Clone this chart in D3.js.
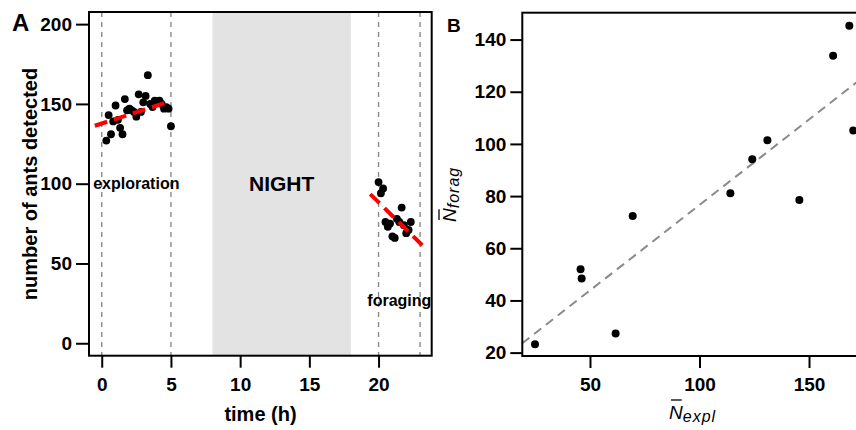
<!DOCTYPE html>
<html>
<head>
<meta charset="utf-8">
<script src="https://cdn.jsdelivr.net/npm/d3@7"></script>
<style>
  body { margin: 0; background: #fff; }
  svg text { font-family: "Liberation Sans", Arial, sans-serif; fill: #000; }
</style>
</head>
<body>
<div id="container"></div>
<script>
// ---- panel A data: counts over time ----
const explTime  = [0.33,0.5,0.67,0.83,1.0,1.17,1.33,1.5,1.67,1.83,2.0,2.17,2.33,2.5,2.67,2.83,3.0,3.17,3.33,3.5,3.67,3.83,4.0,4.17,4.33,4.5,4.67,4.83,5.0];
const explCount = [127,143,131,139,149,140,135,131,153,146,147,146,145,142,156,145,151,155,168,150,148,152,151,152,150,147,148,147,136];
const foragTime  = [20.0,20.17,20.33,20.5,20.67,20.83,21.0,21.17,21.33,21.5,21.67,21.83,22.0,22.17,22.33];
const foragCount = [101,94,97,76,73,75,67,66,78,76,85,74,69,71,76];
// fitted trends (endpoints)
const explFitX = [-0.5, 5.0];
const explFitY = [136.3, 151.8];
const foragFitX = [19.4, 23.5];
const foragFitY = [93.5, 58.5];
const phaseLines = [0, 5, 20, 23];
const nightSpan = [8, 18];
const xTicksA = [0, 5, 10, 15, 20];
const yTicksA = [0, 50, 100, 150, 200];

// ---- panel B data: mean exploration vs mean foraging ----
const nExpl  = [24.9, 45.7, 46.2, 61.7, 69.5, 114.1, 124.1, 131.0, 145.6, 161.0, 168.4, 170.2];
const nForag = [23.2, 52.0, 48.4, 27.3, 72.4, 81.1, 94.1, 101.4, 78.5, 133.8, 145.3, 105.1];
const bFitX = [19.1, 186.7];
const bFitY = [23.6, 133.4];
const xTicksB = [50, 100, 150];
const yTicksB = [20, 40, 60, 80, 100, 120, 140];

const width = 856, height = 430;

const svg = d3.select('#container')
              .append('svg')
              .attr('width', width)
              .attr('height', height);

function styleAxis(g, size) {
  g.select('.domain').remove();
  g.selectAll('line').attr('stroke', '#000').attr('stroke-width', 2);
  g.selectAll('text')
   .attr('font-size', size)
   .attr('font-weight', 'bold')
   .attr('font-family', '"Liberation Sans", Arial, sans-serif');
}

// ================= Panel A =================
const xA = d3.scaleLinear().domain([-0.92, 23.84]).range([89, 431.7]);
const yA = d3.scaleLinear().domain([-7.8, 207.6]).range([355.7, 12]);

// night band
svg.append('rect')
   .attr('x', xA(nightSpan[0]))
   .attr('y', yA.range()[1])
   .attr('width', xA(nightSpan[1]) - xA(nightSpan[0]))
   .attr('height', yA.range()[0] - yA.range()[1])
   .attr('fill', '#e3e3e3');

// phase boundaries
svg.selectAll('.phase')
   .data(phaseLines)
   .enter()
   .append('line')
   .attr('class', 'phase')
   .attr('x1', d => xA(d))
   .attr('x2', d => xA(d))
   .attr('y1', yA.range()[1])
   .attr('y2', yA.range()[0])
   .attr('stroke', '#8a8a8a')
   .attr('stroke-width', 1.4)
   .attr('stroke-dasharray', '5,5');

// points
const ptsA = explTime.map((t, i) => [t, explCount[i]])
  .concat(foragTime.map((t, i) => [t, foragCount[i]]));
svg.selectAll('.ptA')
   .data(ptsA)
   .enter()
   .append('circle')
   .attr('class', 'ptA')
   .attr('cx', d => xA(d[0]))
   .attr('cy', d => yA(d[1]))
   .attr('r', 3.9)
   .attr('fill', '#000');

// red dashed trends
[[explFitX, explFitY], [foragFitX, foragFitY]].forEach(([fx, fy]) => {
  svg.append('line')
     .attr('x1', xA(fx[0])).attr('y1', yA(fy[0]))
     .attr('x2', xA(fx[1])).attr('y2', yA(fy[1]))
     .attr('stroke', '#ff0000')
     .attr('stroke-width', 4)
     .attr('stroke-dasharray', '13,7');
});

// labels
svg.append('text').attr('x', xA(2.5)).attr('y', yA(100)).attr('dy', '0.35em')
   .attr('text-anchor', 'middle').attr('font-size', 16).attr('font-weight', 'bold')
   .text('exploration');
svg.append('text').attr('x', xA(13)).attr('y', yA(100)).attr('dy', '0.35em')
   .attr('text-anchor', 'middle').attr('font-size', 21).attr('font-weight', 'bold')
   .text('NIGHT');
svg.append('text').attr('x', xA(21.5)).attr('y', yA(27)).attr('dy', '0.35em')
   .attr('text-anchor', 'middle').attr('font-size', 16).attr('font-weight', 'bold')
   .text('foraging');

// box
svg.append('rect')
   .attr('x', 89).attr('y', 12)
   .attr('width', 431.7 - 89).attr('height', 355.7 - 12)
   .attr('fill', 'none').attr('stroke', '#000').attr('stroke-width', 2);

// axes
svg.append('g')
   .attr('transform', 'translate(89,0)')
   .call(d3.axisLeft(yA).tickValues(yTicksA).tickSize(13).tickPadding(4))
   .call(g => styleAxis(g, 19));
svg.append('g')
   .attr('transform', 'translate(0,355.7)')
   .call(d3.axisBottom(xA).tickValues(xTicksA).tickSize(12).tickPadding(10))
   .call(g => styleAxis(g, 19));

svg.append('text')
   .attr('x', 260.5).attr('y', 421)
   .attr('text-anchor', 'middle').attr('font-size', 20).attr('font-weight', 'bold')
   .text('time (h)');
svg.append('text')
   .attr('transform', 'translate(36.5,184) rotate(-90)')
   .attr('text-anchor', 'middle').attr('font-size', 20).attr('font-weight', 'bold')
   .text('number of ants detected');
svg.append('text')
   .attr('x', 12).attr('y', 31)
   .attr('font-size', 24).attr('font-weight', 'bold')
   .text('A');

// ================= Panel B =================
const xB = d3.scaleLinear().domain([19.1, 186.7]).range([522.3, 889.4]);
const yB = d3.scaleLinear().domain([18.7, 150.3]).range([356, 12.7]);

svg.append('clipPath').attr('id', 'clipB')
   .append('rect')
   .attr('x', 522.3).attr('y', 12.7)
   .attr('width', 889.4 - 522.3).attr('height', 356 - 12.7);

svg.append('line')
   .attr('clip-path', 'url(#clipB)')
   .attr('x1', xB(bFitX[0])).attr('y1', yB(bFitY[0]))
   .attr('x2', xB(bFitX[1])).attr('y2', yB(bFitY[1]))
   .attr('stroke', '#8a8a8a')
   .attr('stroke-width', 2)
   .attr('stroke-dasharray', '9,6');

svg.selectAll('.ptB')
   .data(nExpl.map((x, i) => [x, nForag[i]]))
   .enter()
   .append('circle')
   .attr('class', 'ptB')
   .attr('cx', d => xB(d[0]))
   .attr('cy', d => yB(d[1]))
   .attr('r', 4)
   .attr('fill', '#000');

svg.append('rect')
   .attr('x', 522.3).attr('y', 12.7)
   .attr('width', 889.4 - 522.3).attr('height', 356 - 12.7)
   .attr('fill', 'none').attr('stroke', '#000').attr('stroke-width', 2);

svg.append('g')
   .attr('transform', 'translate(522.3,0)')
   .call(d3.axisLeft(yB).tickValues(yTicksB).tickSize(12).tickPadding(4))
   .call(g => styleAxis(g, 19));
svg.append('g')
   .attr('transform', 'translate(0,356)')
   .call(d3.axisBottom(xB).tickValues(xTicksB).tickSize(12).tickPadding(10))
   .call(g => styleAxis(g, 19));

svg.append('text')
   .attr('x', 447).attr('y', 32)
   .attr('font-size', 19).attr('font-weight', 'bold')
   .text('B');

// x label: N-bar with subscript "expl"
const xl = svg.append('text').attr('x', 669).attr('y', 419).attr('font-style', 'italic');
const xN = xl.append('tspan').attr('font-size', 19).text('N');
xl.append('tspan').attr('font-size', 16).attr('dy', 3).attr('letter-spacing', 1).text('expl');
const xNw = xN.node().getComputedTextLength();
svg.append('line')
   .attr('x1', 671).attr('x2', 669 + xNw - 1)
   .attr('y1', 400).attr('y2', 400)
   .attr('stroke', '#000').attr('stroke-width', 1.3);

// y label: N-bar with subscript "forag"
const yl = svg.append('g').attr('transform', 'translate(456,222) rotate(-90)');
const ylt = yl.append('text').attr('x', 0).attr('y', 0).attr('font-style', 'italic');
const yN = ylt.append('tspan').attr('font-size', 19).text('N');
ylt.append('tspan').attr('font-size', 16).attr('dy', 3).attr('letter-spacing', 1).text('forag');
const yNw = yN.node().getComputedTextLength();
yl.append('line')
  .attr('x1', 2).attr('x2', yNw - 1)
  .attr('y1', -17).attr('y2', -17)
  .attr('stroke', '#000').attr('stroke-width', 1.3);
</script>
</body>
</html>
